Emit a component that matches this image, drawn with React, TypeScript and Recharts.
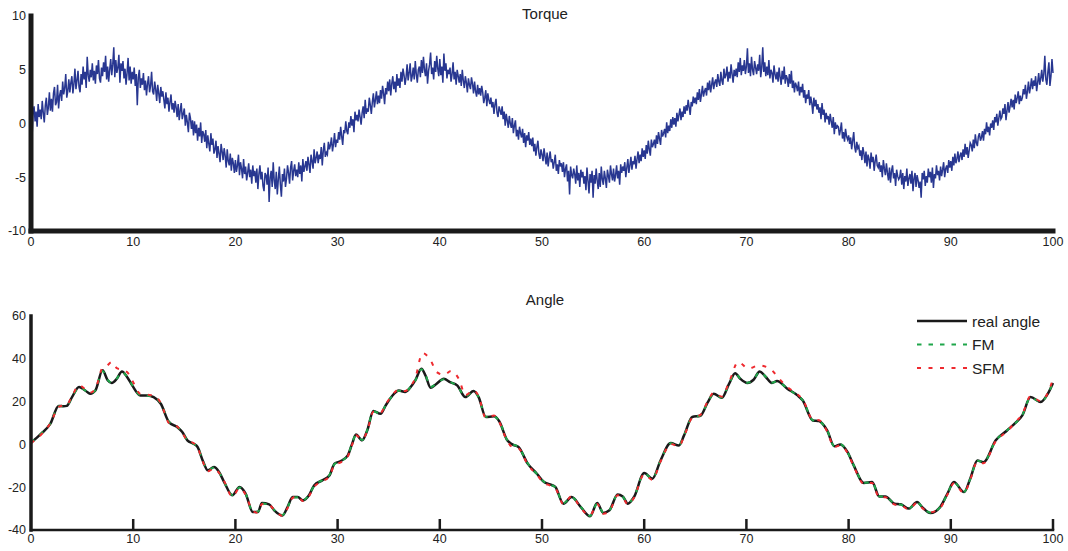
import React from "react";
import { LineChart, Line, XAxis, YAxis } from "recharts";

const FONT = "'Liberation Sans', Arial, Helvetica, sans-serif";
const TEXT = "#222";
const AXIS = "#1a1a1a";

// torque sampled every 0.1 s, 0..100 (one row = one second)
const torqueStep = 0.1;
const torqueValues = [
  0.3, -1.4, 0.9, 1.6, 0.2, 1.1, -0.3, 1.8, 0.6, 1.3,
  0.4, 2.1, 1.0, 0.1, 1.7, 2.4, 0.8, 1.5, 2.9, 1.2,
  2.3, 1.1, 2.8, 3.4, 1.7, 2.0, 3.6, 1.4, 2.6, 3.1,
  2.1, 3.9, 2.7, 3.3, 4.6, 2.4, 3.0, 4.1, 2.9, 3.8,
  4.4, 2.8, 3.7, 5.1, 3.2, 4.0, 4.9, 3.4, 2.9, 4.6,
  3.6, 5.3, 4.1, 4.8, 3.3, 6.2, 4.5, 3.9, 5.0, 4.3,
  5.6, 4.0, 4.9, 3.7, 5.4, 4.6, 5.9, 4.2, 3.8, 5.2,
  4.4, 5.7, 4.8, 6.3, 4.1, 5.3, 3.9, 5.0, 6.0, 4.5,
  5.5, 7.1, 4.3, 5.9, 4.7, 5.2, 6.4, 3.8, 5.6, 4.9,
  5.8, 4.2, 5.1, 3.6, 4.7, 6.1, 4.0, 5.3, 3.7, 4.8,
  4.1, 5.2, 3.5, 4.6, 1.7, 4.3, 5.0, 3.3, 4.2, 3.6,
  4.7, 3.1, 4.0, 2.6, 3.7, 4.4, 2.9, 3.5, 4.8, 3.0,
  2.7, 3.9, 3.2, 2.1, 3.6, 2.8, 1.9, 3.4, 2.5, 3.0,
  2.2, 1.4, 2.9, 1.8, 2.4, 1.1, 2.0, 2.7, 1.3, 1.9,
  1.0, 2.1, 1.5, 0.6, 1.8, 0.3, 1.2, 1.9, 0.4, 0.9,
  1.4, -0.2, 0.8, 0.1, -0.8, 1.0, 0.5, -0.5, 0.3, -1.1,
  0.2, -0.9, -0.1, -1.6, -0.4, -1.2, 0.1, -1.8, -0.7, -1.0,
  -1.7, -0.6, -2.3, -1.1, -1.9, -2.6, -0.9, -2.0, -1.4, -2.8,
  -2.4, -1.6, -3.2, -2.1, -2.8, -3.6, -1.9, -2.6, -3.4, -2.3,
  -3.0, -4.1, -2.4, -3.5, -3.9, -2.8, -4.4, -3.2, -3.7, -4.6,
  -3.4, -4.5, -3.9, -2.9, -4.8, -3.6, -4.2, -5.1, -3.3, -4.7,
  -4.0, -5.3, -4.6, -3.7, -5.0, -4.3, -5.6, -3.9, -4.9, -4.4,
  -5.5, -4.2, -6.1, -4.7, -3.9, -5.2, -4.5, -5.8, -6.3, -4.6,
  -4.8, -5.7, -4.1, -7.3, -5.0, -4.4, -5.9, -3.6, -5.3, -6.1,
  -4.5, -6.6, -5.2, -4.0, -5.7, -6.8, -4.7, -5.4, -4.2, -5.9,
  -5.1, -3.9, -4.6, -5.6, -4.1, -3.5, -5.3, -4.4, -3.8, -4.9,
  -4.3, -5.0, -3.6, -4.7, -3.9, -5.4, -3.3, -4.5, -4.0, -3.5,
  -4.4, -3.1, -3.8, -4.6, -2.9, -3.5, -4.2, -2.4, -3.7, -3.2,
  -2.6, -3.7, -2.9, -3.3, -2.2, -3.9, -2.5, -1.8, -3.1, -2.7,
  -2.9, -1.7, -2.4, -2.0, -1.3, -2.6, -1.9, -0.9, -2.2, -1.5,
  -1.8, -0.8, -1.5, -0.3, -1.2, -2.0, -0.6, -0.9, 0.2, -0.7,
  -1.0, 0.1, -0.4, 0.7, -0.2, 0.4, -0.8, 1.1, 0.3, 0.8,
  0.2, 1.3, 0.6, -0.1, 1.0, 1.6, 0.5, 2.2, 0.9, 1.4,
  1.1, 2.4, 1.7, 0.9, 2.0, 2.8, 1.5, 2.2, 3.0, 1.8,
  2.6, 1.9, 3.1, 2.3, 3.5, 2.8, 1.8, 3.3, 2.7, 3.9,
  3.0, 4.1, 2.6, 3.7, 4.4, 3.2, 3.9, 2.9, 4.6, 3.5,
  4.2, 3.3, 4.8, 3.9, 5.1, 4.5, 3.6, 4.3, 5.5, 4.0,
  4.7, 5.6, 3.9, 4.4, 5.2, 4.1, 5.8, 4.6, 3.8, 5.0,
  5.3, 4.3, 5.9, 4.7, 6.2, 5.0, 4.4, 5.6, 3.7, 4.9,
  5.5, 6.6, 4.6, 5.2, 4.1, 5.8, 4.8, 6.3, 5.1, 4.4,
  6.0, 4.5, 5.3, 3.8, 6.5, 4.9, 5.6, 4.2, 5.0, 4.6,
  5.2, 3.9, 4.6, 5.7, 4.1, 4.8, 3.6, 5.0, 4.4, 3.8,
  4.6, 3.5, 5.0, 4.0, 3.3, 4.4, 3.8, 2.9, 4.2, 3.6,
  3.2, 4.3, 3.7, 2.8, 3.9, 3.0, 2.5, 3.6, 2.7, 3.3,
  2.6, 3.5, 2.9, 1.9, 2.4, 3.1, 1.6, 2.8, 2.2, 1.8,
  2.4, 1.5, 2.0, 0.9, 1.8, 2.3, 1.0, 0.6, 1.6, 1.2,
  0.8, 1.6, 0.4, 1.1, -0.2, 0.9, 0.3, -0.4, 0.7, 0.0,
  -0.4, 0.5, -0.9, -0.2, 0.3, -1.2, -0.6, -1.5, -0.3, -0.9,
  -1.3, -0.5, -1.8, -0.9, -2.2, -1.1, -1.6, -0.8, -2.0, -1.4,
  -2.1, -1.3, -2.6, -1.9, -3.0, -2.2, -1.6, -2.8, -3.3, -2.4,
  -2.9, -3.5, -2.3, -3.1, -3.8, -2.7, -4.0, -3.2, -2.6, -3.6,
  -3.3, -4.2, -3.6, -2.9, -4.4, -3.8, -4.7, -3.4, -4.0, -3.7,
  -4.5, -3.6, -5.0, -4.2, -3.8, -5.4, -4.4, -6.6, -4.0, -4.8,
  -5.1, -4.2, -4.7, -5.6, -3.9, -5.3, -4.6, -5.9, -4.3, -5.0,
  -4.5, -5.6, -4.9, -6.2, -4.1, -5.3, -6.5, -4.7, -5.5, -4.4,
  -6.9, -4.8, -5.6, -4.2, -5.3, -6.1, -4.6, -5.9, -4.0, -5.2,
  -5.7, -4.4, -5.1, -6.0, -4.3, -4.9, -5.5, -3.9, -4.7, -5.3,
  -4.2, -5.4, -4.8, -3.9, -5.1, -4.4, -5.7, -3.8, -4.6, -4.0,
  -4.4, -3.6, -5.0, -4.1, -3.3, -4.6, -3.9, -3.1, -4.3, -3.5,
  -3.8, -3.0, -4.2, -3.3, -2.6, -3.7, -2.9, -3.5, -2.3, -3.1,
  -2.5, -3.3, -2.0, -2.8, -1.6, -2.4, -3.0, -1.5, -2.2, -1.9,
  -1.5, -2.3, -1.1, -1.9, -0.8, -1.4, -2.0, -0.6, -1.2, -0.9,
  -0.5, -1.3, 0.1, -0.9, -0.2, -0.7, 0.4, -0.4, 0.6, -0.1,
  0.5, -0.3, 1.0, 0.2, 0.8, 1.4, 0.3, 1.1, 0.6, 1.6,
  0.9, 1.7, 1.2, 2.2, 1.5, 0.8, 2.0, 1.6, 2.5, 1.9,
  2.4, 1.8, 2.9, 2.2, 3.2, 2.0, 2.7, 3.5, 2.5, 3.0,
  3.3, 2.6, 3.8, 3.1, 4.0, 2.9, 3.6, 4.3, 3.2, 3.8,
  4.1, 3.4, 4.6, 3.9, 3.5, 4.8, 4.0, 3.6, 5.1, 4.2,
  4.5, 5.3, 3.9, 4.8, 4.2, 5.5, 4.6, 3.8, 5.0, 4.4,
  5.1, 4.3, 5.7, 4.8, 6.1, 4.5, 5.4, 4.9, 5.9, 4.6,
  5.3, 7.0, 4.7, 5.6, 4.4, 6.2, 5.0, 4.5, 5.8, 5.2,
  4.6, 5.5, 4.9, 6.4, 4.3, 5.2, 7.1, 4.8, 5.7, 4.4,
  5.3, 4.5, 5.9, 4.2, 5.0, 4.7, 3.8, 5.4, 4.6, 4.1,
  4.8, 3.9, 5.2, 4.3, 3.6, 4.9, 4.1, 5.3, 3.7, 4.5,
  4.2, 3.4, 4.6, 3.7, 4.9, 3.3, 4.0, 2.9, 3.8, 3.5,
  3.0, 3.9, 2.6, 3.4, 2.9, 3.7, 2.4, 3.1, 1.9, 2.7,
  2.3, 3.1, 1.7, 2.5, 1.9, 0.9, 2.4, 1.6, 2.2, 1.3,
  1.8, 1.0, 1.5, 0.4, 1.9, 0.8, 1.3, 0.1, 1.0, 0.4,
  0.7, -0.1, 0.9, 0.2, -0.4, 0.6, -1.0, 0.1, -0.5, -0.2,
  -0.3, -1.1, -0.6, 0.1, -1.4, -0.8, -1.7, -0.5, -1.2, -1.5,
  -1.1, -1.9, -1.3, -2.4, -1.6, -0.8, -2.2, -2.7, -1.7, -2.3,
  -2.1, -3.0, -2.5, -3.4, -2.2, -2.8, -3.7, -2.6, -4.0, -2.9,
  -3.3, -4.2, -2.7, -3.6, -3.1, -4.4, -3.5, -2.9, -3.9, -4.1,
  -3.6, -4.5, -3.9, -5.0, -3.4, -4.2, -4.8, -3.7, -4.6, -5.3,
  -4.1, -5.5, -4.4, -3.9, -5.1, -4.6, -5.8, -4.3, -4.9, -5.2,
  -5.0, -4.3, -5.7, -4.6, -6.1, -4.9, -5.4, -4.2, -5.8, -5.1,
  -4.7, -5.6, -4.4, -6.3, -5.1, -4.6, -5.9, -4.8, -5.3, -6.0,
  -5.4, -6.9, -4.6, -5.2, -4.4, -5.8, -4.9, -5.5, -4.2, -5.0,
  -4.5, -5.5, -4.1, -6.0, -4.7, -5.1, -3.9, -4.8, -4.4, -5.3,
  -4.0, -4.9, -4.3, -3.6, -5.0, -4.2, -3.9, -4.6, -3.4, -4.1,
  -3.5, -4.4, -3.1, -3.9, -2.8, -3.7, -3.3, -2.6, -3.6, -3.0,
  -2.7, -3.4, -2.4, -3.1, -1.9, -2.9, -2.2, -3.2, -2.5, -1.8,
  -2.0, -2.6, -1.5, -2.3, -1.0, -1.8, -2.1, -1.2, -0.9, -1.6,
  -1.3, -0.7, -1.6, -0.5, -1.0, 0.1, -0.8, -0.3, -1.1, 0.0,
  -0.4, 0.3, -0.6, 0.6, 0.1, 0.9, -0.2, 0.5, 1.2, 0.4,
  0.6, 1.4, 0.9, 1.8, 0.3, 1.2, 2.0, 1.0, 1.6, 2.3,
  1.5, 2.2, 1.3, 2.7, 1.9, 2.4, 3.0, 1.8, 2.6, 2.1,
  2.4, 3.2, 2.7, 3.6, 2.3, 3.0, 3.9, 2.8, 3.4, 4.2,
  3.2, 4.0, 3.5, 4.4, 3.0, 3.8, 4.7, 3.6, 4.2, 5.0,
  3.9, 4.6, 6.3, 4.1, 3.6, 4.8, 5.7, 3.5, 4.4, 6.0,
  4.7,
];

// angle series as [time, degrees]
const realAngle = [
  [0, 0.8], [1, 5], [1.9, 9.7], [2.7, 18], [3.2, 17.8], [3.5, 18], [4, 22], [4.7, 26.8], [5.5, 24.5], [5.8, 23.7],
  [6.3, 25.2], [7, 34.6], [7.5, 30], [7.9, 28.7], [8.4, 30.7], [8.9, 34.1], [9.4, 31.5], [9.9, 27.6], [10.7, 22.9], [11.4, 22.9],
  [12, 22.1], [12.7, 19], [13.5, 10.4], [14.3, 8.1], [14.8, 5.8], [15.3, 1.9], [15.9, 0.3], [16.3, -1.2], [16.8, -7.5], [17.3, -12.1],
  [17.9, -10.6], [18.4, -12.9], [18.9, -17.6], [19.7, -23.8], [20.4, -19.9], [21, -23], [21.7, -31.6], [22.2, -31.6], [22.6, -27.4], [23.3, -28],
  [23.8, -30.8], [24.6, -33.2], [25.1, -29.3], [25.6, -24.6], [26.1, -24.6], [26.6, -26.2], [27.2, -23.8], [27.7, -19.2], [28.5, -16.8], [29.2, -14.5],
  [29.7, -9], [30.3, -7.8], [31, -5.1], [31.4, 0], [31.8, 4.6], [32.4, 1.9], [32.9, 6.5], [33.5, 15.6], [34.2, 14.3], [34.7, 18.2],
  [35.3, 22.4], [36, 25.2], [36.6, 24.5], [37.1, 26.5], [37.6, 29.9], [38.2, 35.4], [38.6, 32.2], [39.1, 26.5], [39.6, 28], [40.4, 30.7],
  [41, 29.1], [41.7, 27.6], [42.5, 22.1], [43.3, 24.9], [43.8, 22.1], [44.5, 12.8], [45.3, 13.1], [45.8, 10.9], [46.6, 1.9], [47.1, 0],
  [47.7, -1.2], [48.6, -9], [49.5, -13.7], [50.2, -17.6], [50.8, -18.7], [51.3, -19.9], [52.1, -27.7], [52.9, -24.6], [53.8, -29.3], [54.7, -33.6],
  [55.4, -27.4], [56, -32], [56.6, -30.8], [57.4, -23.4], [57.9, -24.3], [58.4, -27.7], [59, -24.6], [60, -13.4], [60.8, -16], [61.6, -7.5],
  [62.6, 0.6], [63.4, -0.5], [63.9, 4.2], [64.7, 12.8], [65.5, 13.4], [66.2, 19.5], [66.8, 23.7], [67.6, 21.8], [68.3, 28.3], [68.9, 33.3],
  [69.4, 30.7], [70.1, 28.7], [70.7, 30.2], [71.3, 34.1], [71.9, 31.5], [72.5, 28.7], [73, 29.6], [74, 26], [75, 22.9], [75.5, 20.6],
  [76.5, 11.2], [77.1, 10.9], [77.9, 6.5], [78.6, -0.9], [79.2, 0], [79.9, -3.6], [80.5, -9.8], [81.5, -18], [82.3, -17.6], [83, -24.3],
  [83.6, -24.3], [84.5, -27.7], [85.1, -28], [85.9, -30], [86.7, -26.9], [87.2, -29.3], [88, -32.1], [89, -29], [89.7, -22.7], [90.3, -17.6],
  [91.3, -22.3], [91.9, -16], [92.6, -7.5], [93.2, -8.3], [94.4, 1.9], [95.5, 6.5], [96.4, 10.4], [97, 13.6], [97.8, 22.1], [98.8, 19.8],
  [99.5, 23.7], [100, 28.7],
];

const fmAngle = [
  [0, 0.9], [1, 5.1], [1.9, 9.8], [2.7, 17.8], [3.2, 17.9], [3.5, 18.1], [4, 21.8], [4.7, 26.6], [5.5, 24.6], [5.8, 23.8],
  [6.3, 25.4], [7, 34.3], [7.5, 30.2], [7.9, 28.8], [8.4, 30.8], [8.9, 33.9], [9.4, 31.6], [9.9, 27.8], [10.7, 23], [11.4, 22.8],
  [12, 22.2], [12.7, 19.2], [13.5, 10.6], [14.3, 8.2], [14.8, 5.7], [15.3, 2], [15.9, 0.2], [16.3, -1.1], [16.8, -7.6], [17.3, -12],
  [17.9, -10.8], [18.4, -13], [18.9, -17.5], [19.7, -23.6], [20.4, -20.1], [21, -23.1], [21.7, -31.4], [22.2, -31.5], [22.6, -27.6], [23.3, -28.1],
  [23.8, -30.7], [24.6, -33], [25.1, -29.4], [25.6, -24.8], [26.1, -24.7], [26.6, -26.1], [27.2, -23.6], [27.7, -19.4], [28.5, -16.7], [29.2, -14.3],
  [29.7, -9.2], [30.3, -7.9], [31, -5], [31.4, 0.2], [31.8, 4.4], [32.4, 2], [32.9, 6.7], [33.5, 15.4], [34.2, 14.4], [34.7, 18.3],
  [35.3, 22.3], [36, 25.1], [36.6, 24.6], [37.1, 26.6], [37.6, 29.8], [38.2, 35.1], [38.6, 32.4], [39.1, 26.8], [39.6, 28.1], [40.4, 30.5],
  [41, 29.2], [41.7, 27.4], [42.5, 22.3], [43.3, 24.7], [43.8, 22.2], [44.5, 12.9], [45.3, 13], [45.8, 11], [46.6, 2], [47.1, 0.1],
  [47.7, -1.3], [48.6, -8.8], [49.5, -13.8], [50.2, -17.5], [50.8, -18.8], [51.3, -20], [52.1, -27.5], [52.9, -24.7], [53.8, -29.2], [54.7, -33.4],
  [55.4, -27.6], [56, -31.8], [56.6, -30.7], [57.4, -23.5], [57.9, -24.4], [58.4, -27.5], [59, -24.5], [60, -13.6], [60.8, -15.9], [61.6, -7.6],
  [62.6, 0.5], [63.4, -0.4], [63.9, 4.3], [64.7, 12.6], [65.5, 13.5], [66.2, 19.4], [66.8, 23.6], [67.6, 21.9], [68.3, 28.2], [68.9, 33.1],
  [69.4, 30.8], [70.1, 28.8], [70.7, 30.3], [71.3, 33.9], [71.9, 31.6], [72.5, 28.8], [73, 29.5], [74, 26.1], [75, 22.8], [75.5, 20.7],
  [76.5, 11.3], [77.1, 10.8], [77.9, 6.6], [78.6, -0.8], [79.2, 0.1], [79.9, -3.7], [80.5, -9.7], [81.5, -17.9], [82.3, -17.7], [83, -24.2],
  [83.6, -24.4], [84.5, -27.6], [85.1, -28.1], [85.9, -29.9], [86.7, -27], [87.2, -29.2], [88, -31.9], [89, -29.1], [89.7, -22.8], [90.3, -17.8],
  [91.3, -22.1], [91.9, -16.2], [92.6, -7.6], [93.2, -8.2], [94.4, 1.8], [95.5, 6.6], [96.4, 10.3], [97, 13.7], [97.8, 21.9], [98.8, 19.9],
  [99.5, 23.6], [100, 28.9],
];

const sfmAngle = [
  [0, 0.6], [1, 4.6], [1.9, 9.9], [2.7, 17.5], [3.2, 18.2], [3.5, 18.4], [4, 22.4], [4.7, 27.6], [5.5, 25], [5.8, 24.2],
  [6.3, 26], [7, 35.8], [7.4, 36.6], [7.9, 38.5], [8.4, 35.6], [8.8, 35], [9.4, 33.8], [9.9, 29.9], [10.7, 23.6], [11.4, 23.2],
  [12, 22.8], [12.7, 19.4], [13.5, 10], [14.3, 8.4], [14.8, 5.5], [15.3, 1.7], [15.9, 0.6], [16.3, -1.5], [16.8, -7.9], [17.3, -12.6],
  [17.9, -11.2], [18.4, -13.3], [18.9, -17.2], [19.7, -24.4], [20.4, -20.5], [21, -23.4], [21.7, -31.2], [22.2, -31.9], [22.6, -27.9], [23.3, -28.3],
  [23.8, -30.5], [24.6, -33.4], [25.1, -29.8], [25.6, -25], [26.1, -24.2], [26.6, -26.5], [27.2, -24.2], [27.7, -19.8], [28.5, -17.3], [29.2, -14.9],
  [29.7, -9.6], [30.3, -8.4], [31, -5.6], [31.4, -0.5], [31.8, 4.3], [32.4, 2.4], [32.9, 6.2], [33.5, 15.2], [34.2, 14.8], [34.7, 18.6],
  [35.3, 22.8], [36, 25.6], [36.6, 24.9], [37.1, 27], [37.6, 31], [38.3, 42.7], [39.1, 39.3], [39.7, 33.8], [40.4, 32.5], [41.1, 34.3],
  [41.9, 30.2], [42.5, 23], [43.3, 25.3], [43.8, 22.5], [44.5, 12.4], [45.3, 13.5], [45.8, 10.6], [46.6, 1.5], [47.1, -1.2], [47.7, -1.8],
  [48.6, -9.4], [49.5, -14.2], [50.2, -18], [50.8, -19.2], [51.3, -20.4], [52.1, -27.9], [52.9, -24.2], [53.8, -29.8], [54.7, -33.2], [55.4, -27.8],
  [56, -32.4], [56.6, -31.2], [57.4, -23.8], [57.9, -24.8], [58.4, -28], [59, -24.9], [60, -14], [60.8, -16.5], [61.6, -8], [62.6, 0.2],
  [63.4, -0.9], [63.9, 3.8], [64.7, 12.4], [65.5, 13.8], [66.2, 19.9], [66.8, 24.2], [67.6, 22.3], [68.3, 29], [69.2, 38.5], [70.2, 35.4],
  [71.2, 36.9], [72.3, 35.4], [73.2, 30.7], [74, 26.8], [75, 23.4], [75.5, 21], [76.5, 11.6], [77.1, 11.3], [77.9, 6.1], [78.6, -1.3],
  [79.2, -0.4], [79.9, -4], [80.5, -10.2], [81.5, -18.4], [82.3, -18], [83, -24.8], [83.6, -24.7], [84.5, -28.1], [85.1, -28.4], [85.9, -30.4],
  [86.7, -27.3], [87.2, -29.7], [88, -31.7], [89, -29.4], [89.7, -23.2], [90.3, -18.2], [91.3, -22.7], [91.9, -16.5], [92.6, -8], [93.2, -8.8],
  [94.4, 1.5], [95.5, 6.1], [96.4, 10.8], [97, 14], [97.8, 22.5], [98.8, 20.2], [99.5, 24.1], [100, 30.6],
];

const timeTicks = [0, 10, 20, 30, 40, 50, 60, 70, 80, 90, 100];
const torqueTicks = [-10, -5, 0, 5, 10];
const angleTicks = [-40, -20, 0, 20, 40, 60];

const legendItems = [
  { name: "real angle", color: "#1a1a1a", dash: undefined as string | undefined },
  { name: "FM", color: "#1fa64a", dash: "4.5 7" },
  { name: "SFM", color: "#ee2a2f", dash: "4 7.5" },
];

const torqueData = torqueValues.map((v, i) => ({ t: i * torqueStep, v }));
const toRows = (pts: number[][]) => pts.map(([t, v]) => ({ t, v }));

const tickStyle = { fontSize: 12.5, fill: TEXT, fontFamily: FONT };

function AngleXTick(props: any) {
  const { x, y, payload } = props;
  const axisY = y - 4;
  return (
    <g>
      {payload.value > 0 && (
        <line x1={x} x2={x} y1={axisY} y2={axisY - 11} stroke={AXIS} strokeWidth={2.5} />
      )}
      <text x={x} y={y} dy="0.71em" textAnchor="middle" {...tickStyle}>
        {payload.value}
      </text>
    </g>
  );
}

function Title({ text, top }: { text: string; top: number }) {
  return (
    <div
      style={{
        position: "absolute",
        left: 445,
        width: 200,
        top,
        textAlign: "center",
        fontFamily: FONT,
        fontSize: 15,
        lineHeight: "15px",
        color: TEXT,
      }}
    >
      {text}
    </div>
  );
}

function AngleLegend() {
  return (
    <svg width={150} height={72} style={{ position: "absolute", left: 910, top: 310 }}>
      {legendItems.map((it, i) => {
        const y = 11 + i * 23.5;
        return (
          <g key={it.name}>
            <line
              x1={7}
              x2={57}
              y1={y}
              y2={y}
              stroke={it.color}
              strokeWidth={it.dash ? 2 : 2.5}
              strokeDasharray={it.dash}
            />
            <text x={62} y={y} dy="0.36em" fontSize={15.5} fontFamily={FONT} fill={TEXT}>
              {it.name}
            </text>
          </g>
        );
      })}
    </svg>
  );
}

export default function App() {
  return (
    <div style={{ position: "absolute", left: 0, top: 0, width: 1068, height: 551, background: "#fff" }}>
      <Title text="Torque" top={6} />
      <div style={{ position: "absolute", left: 0, top: 0 }}>
        <LineChart width={1068} height={252} data={torqueData} margin={{ top: 16, right: 15, left: 0, bottom: 0 }}>
          <XAxis
            dataKey="t"
            type="number"
            domain={[0, 100]}
            ticks={timeTicks}
            height={21}
            tickSize={4}
            tickMargin={2}
            tickLine={false}
            axisLine={{ stroke: AXIS, strokeWidth: 5, strokeLinecap: "square" }}
            tick={tickStyle}
            interval={0}
          />
          <YAxis
            type="number"
            domain={[-10, 10]}
            ticks={torqueTicks}
            width={31}
            tickSize={3}
            tickMargin={2}
            tickLine={false}
            axisLine={{ stroke: AXIS, strokeWidth: 5, strokeLinecap: "square" }}
            tick={tickStyle}
            interval={0}
          />
          <Line
            dataKey="v"
            type="linear"
            stroke="#283791"
            strokeWidth={1.5}
            strokeLinejoin="miter"
            dot={false}
            isAnimationActive={false}
          />
        </LineChart>
      </div>

      <Title text="Angle" top={292} />
      <div style={{ position: "absolute", left: 0, top: 280 }}>
        <LineChart width={1068} height={271} margin={{ top: 36, right: 15, left: 0, bottom: 0 }}>
          <XAxis
            dataKey="t"
            type="number"
            domain={[0, 100]}
            ticks={timeTicks}
            height={21}
            tickSize={2}
            tickMargin={2}
            tickLine={false}
            axisLine={{ stroke: AXIS, strokeWidth: 2.5, strokeLinecap: "square" }}
            tick={<AngleXTick />}
            interval={0}
            allowDuplicatedCategory={false}
          />
          <YAxis
            type="number"
            domain={[-40, 60]}
            ticks={angleTicks}
            width={31}
            tickSize={3}
            tickMargin={2}
            tickLine={false}
            axisLine={{ stroke: AXIS, strokeWidth: 3.5, strokeLinecap: "square" }}
            tick={tickStyle}
            interval={0}
          />
          <Line
            data={toRows(realAngle)}
            dataKey="v"
            name="real angle"
            type="monotone"
            stroke="#1a1a1a"
            strokeWidth={2.5}
            dot={false}
            isAnimationActive={false}
          />
          <Line
            data={toRows(fmAngle)}
            dataKey="v"
            name="FM"
            type="monotone"
            stroke="#1fa64a"
            strokeWidth={2}
            strokeDasharray="4.5 7"
            dot={false}
            isAnimationActive={false}
          />
          <Line
            data={toRows(sfmAngle)}
            dataKey="v"
            name="SFM"
            type="monotone"
            stroke="#ee2a2f"
            strokeWidth={2}
            strokeDasharray="4 7.5"
            dot={false}
            isAnimationActive={false}
          />
        </LineChart>
      </div>
      <AngleLegend />
    </div>
  );
}
